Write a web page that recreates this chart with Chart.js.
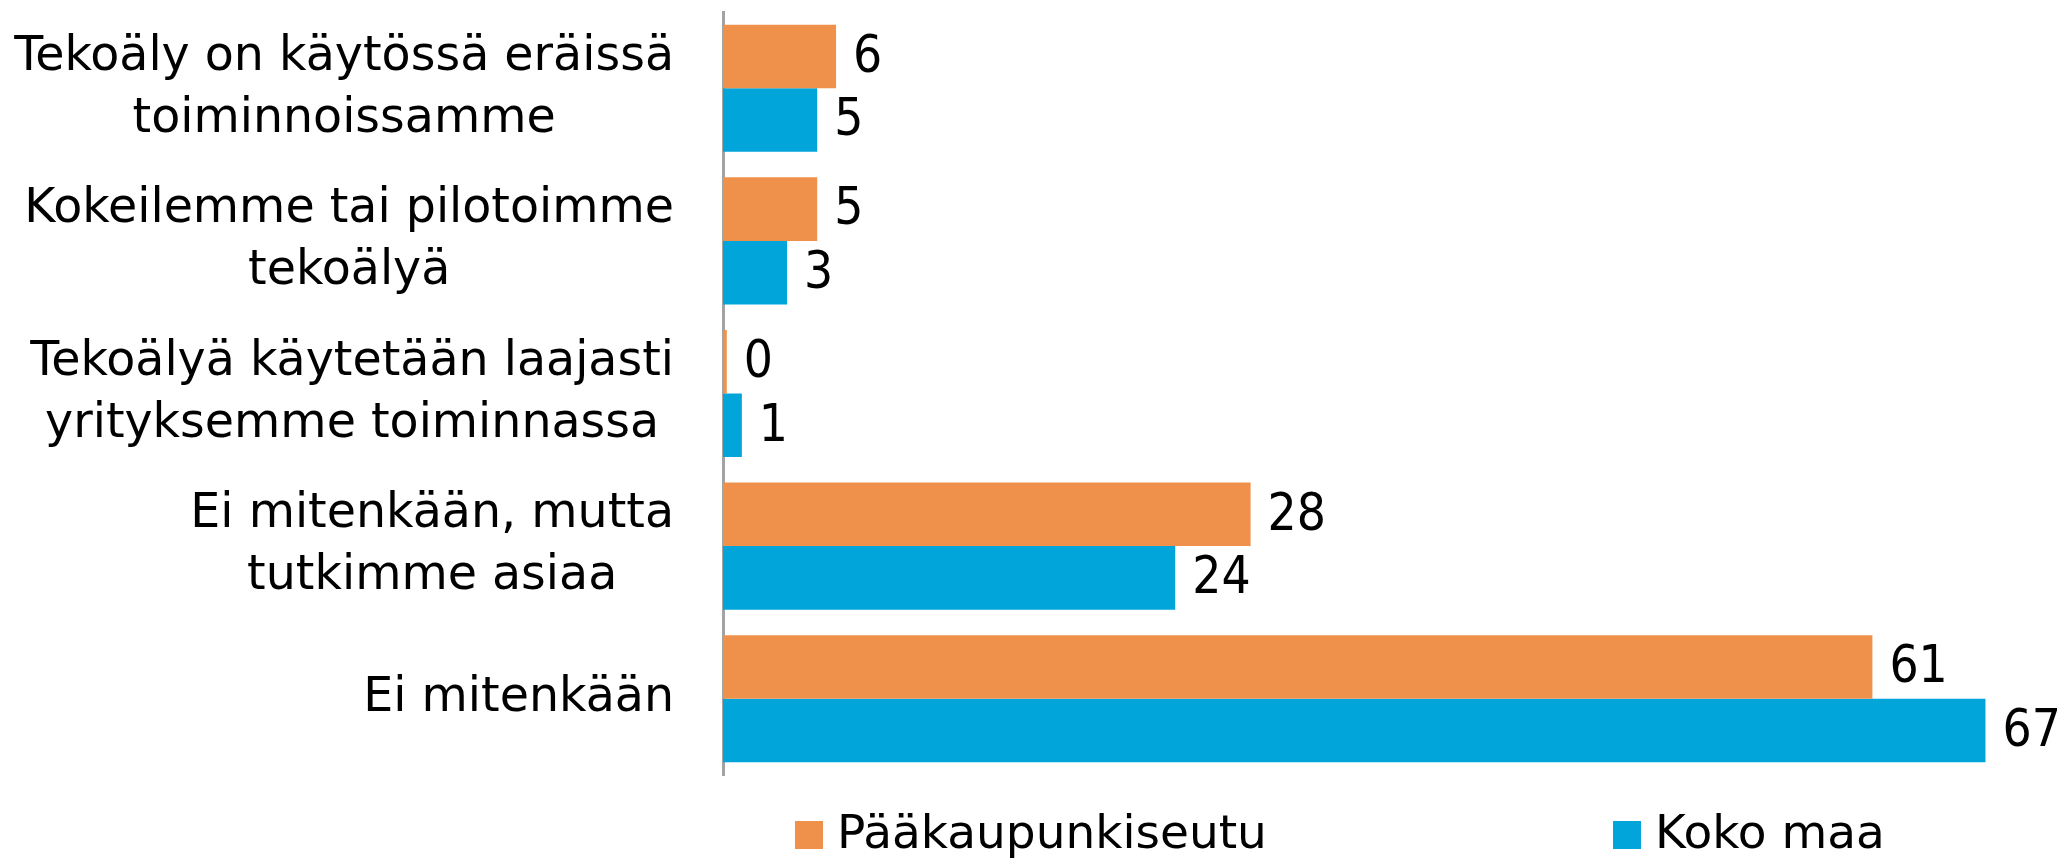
<html>
<head>
<meta charset="utf-8">
<script src="https://cdn.jsdelivr.net/npm/chart.js"></script>
<style>
  body { margin: 0; background: #fff; }
  #wrap { width: 2059px; height: 859px; position: relative; }
</style>
</head>
<body>
<div id="wrap"><canvas id="chart"></canvas></div>
<script>
  const categories = [
    ['Tekoäly on käytössä eräissä', 'toiminnoissamme'],
    ['Kokeilemme tai pilotoimme', 'tekoälyä'],
    ['Tekoälyä käytetään laajasti', 'yrityksemme toiminnassa'],
    ['Ei mitenkään, mutta', 'tutkimme asiaa'],
    ['Ei mitenkään']
  ];
  const seriesNames = ['Pääkaupunkiseutu', 'Koko maa'];
  const paakaupunkiseutu = [6, 5, 0.2, 28, 61];
  const kokoMaa = [5, 3.4, 1, 24, 67];

  const FONT = '"DejaVu Sans", sans-serif';
  const NUMFONT = '"DejaVu Sans Condensed", "DejaVu Sans", sans-serif';
  const orange = '#F0914B';
  const blue = '#02A5D9';

  // y-axis labels: block right aligned, lines centred inside the block
  const catLabels = {
    id: 'catLabels',
    afterDraw(chart) {
      const ctx = chart.ctx;
      const y = chart.scales.y;
      ctx.save();
      ctx.font = '47.5px ' + FONT;
      ctx.fillStyle = '#000';
      ctx.textBaseline = 'middle';
      ctx.textAlign = 'center';
      const right = chart.chartArea.left - 49;
      const lh = 62;
      categories.forEach((lines, i) => {
        const cy = y.getPixelForValue(i);
        const w = Math.max(...lines.map(l => ctx.measureText(l).width));
        const cx = right - w / 2;
        lines.forEach((l, j) => {
          ctx.fillText(l, cx, cy + (j - (lines.length - 1) / 2) * lh);
        });
      });
      ctx.restore();
    }
  };

  const valueLabels = {
    id: 'valueLabels',
    afterDatasetsDraw(chart) {
      const ctx = chart.ctx;
      ctx.save();
      ctx.font = '51px ' + NUMFONT;
      ctx.fillStyle = '#000';
      ctx.textBaseline = 'middle';
      ctx.textAlign = 'left';
      chart.data.datasets.forEach((ds, di) => {
        chart.getDatasetMeta(di).data.forEach((bar, i) => {
          ctx.fillText(String(Math.round(ds.data[i])), bar.x + 17, bar.y + 2);
        });
      });
      ctx.restore();
    }
  };

  const legendRow = {
    id: 'legendRow',
    afterDraw(chart) {
      const ctx = chart.ctx;
      const a = chart.chartArea;
      const offsets = [72, 890];
      ctx.save();
      ctx.font = '47px ' + FONT;
      ctx.textBaseline = 'middle';
      ctx.textAlign = 'left';
      chart.data.datasets.forEach((ds, i) => {
        const x = a.left + offsets[i];
        const cy = a.bottom + 60;
        ctx.fillStyle = ds.backgroundColor;
        ctx.fillRect(x, cy - 14, 28, 28);
        ctx.fillStyle = '#000';
        ctx.fillText(ds.label, x + 42, cy + 1);
      });
      ctx.restore();
    }
  };

  new Chart(document.getElementById('chart'), {
    type: 'bar',
    data: {
      labels: categories,
      datasets: [
        { label: seriesNames[0], data: paakaupunkiseutu, backgroundColor: orange },
        { label: seriesNames[1], data: kokoMaa, backgroundColor: blue }
      ]
    },
    options: {
      indexAxis: 'y',
      responsive: true,
      maintainAspectRatio: false,
      animation: false,
      categoryPercentage: 0.833,
      barPercentage: 1,
      layout: { padding: { top: 12, right: 17, bottom: 84, left: 0 } },
      plugins: { legend: { display: false }, tooltip: { enabled: false } },
      scales: {
        x: { display: false, min: 0, max: 70 },
        y: {
          grid: { display: false },
          border: { display: true, color: '#a3a3a3', width: 3 },
          ticks: { display: false },
          afterFit(scale) { scale.width = 723; }
        }
      }
    },
    plugins: [catLabels, valueLabels, legendRow]
  });
</script>
</body>
</html>
